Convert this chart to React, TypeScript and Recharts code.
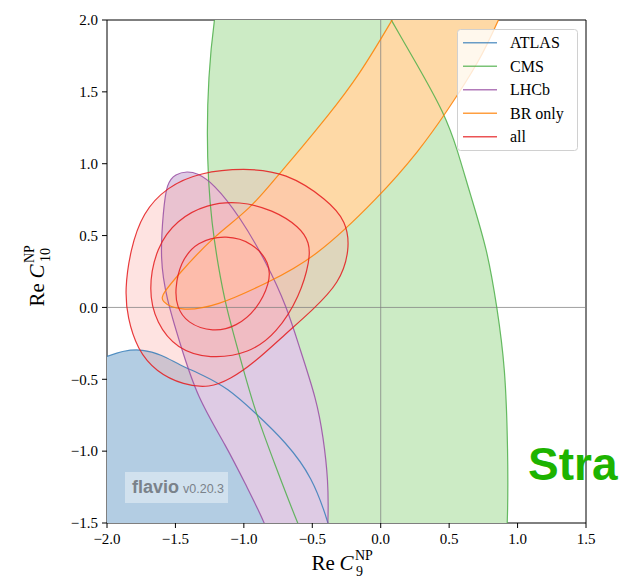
import React from 'react';
import { ScatterChart, Scatter, XAxis, YAxis, ReferenceLine, Legend, Label } from 'recharts';

type Pt = { x: number; y: number };

// Confidence-region outlines in the (Re C9, Re C10) plane.
// Points lying beyond the axis limits only close the shapes off-plot; they are clipped away.
const atlasContour: Pt[] = [
  { x: -2.3, y: -0.45 }, { x: -2.0, y: -0.34 }, { x: -1.88, y: -0.3 }, { x: -1.74, y: -0.29 },
  { x: -1.6, y: -0.33 }, { x: -1.47, y: -0.4 }, { x: -1.3, y: -0.47 }, { x: -1.12, y: -0.56 },
  { x: -0.92, y: -0.73 }, { x: -0.69, y: -0.94 }, { x: -0.5, y: -1.18 }, { x: -0.38, y: -1.5 },
  { x: -0.3, y: -1.8 }, { x: -0.6, y: -2.3 }, { x: -1.5, y: -2.4 }, { x: -2.3, y: -1.5 },
];

const cmsContour: Pt[] = [
  { x: -1.15, y: 2.4 }, { x: -1.22, y: 2.0 }, { x: -1.26, y: 1.6 }, { x: -1.27, y: 1.2 },
  { x: -1.26, y: 0.88 }, { x: -1.235, y: 0.59 }, { x: -1.19, y: 0.3 }, { x: -1.13, y: 0.0 },
  { x: -1.03, y: -0.34 }, { x: -0.92, y: -0.72 }, { x: -0.77, y: -1.1 }, { x: -0.61, y: -1.5 },
  { x: -0.45, y: -1.85 }, { x: -0.1, y: -2.3 }, { x: 0.5, y: -2.4 }, { x: 0.9, y: -1.9 },
  { x: 0.93, y: -1.5 }, { x: 0.93, y: -1.0 }, { x: 0.91, y: -0.41 }, { x: 0.85, y: 0.0 },
  { x: 0.78, y: 0.4 }, { x: 0.65, y: 0.8 }, { x: 0.56, y: 1.098 }, { x: 0.47, y: 1.344 },
  { x: 0.25, y: 1.716 }, { x: 0.09, y: 1.976 }, { x: -0.1, y: 2.3 }, { x: -0.6, y: 2.7 },
];

const lhcbContour: Pt[] = [
  { x: -1.413, y: 0.947 }, { x: -1.345, y: 0.936 }, { x: -1.224, y: 0.866 }, { x: -1.03, y: 0.634 },
  { x: -0.833, y: 0.309 }, { x: -0.687, y: 0.007 }, { x: -0.59, y: -0.29 }, { x: -0.468, y: -0.643 },
  { x: -0.42, y: -0.9 }, { x: -0.383, y: -1.2 }, { x: -0.383, y: -1.497 }, { x: -0.4, y: -1.75 },
  { x: -0.5, y: -1.97 }, { x: -0.63, y: -2.0 }, { x: -0.74, y: -1.78 }, { x: -0.846, y: -1.497 },
  { x: -0.98, y: -1.246 }, { x: -1.126, y: -0.968 }, { x: -1.345, y: -0.62 }, { x: -1.467, y: -0.248 },
  { x: -1.564, y: 0.054 }, { x: -1.613, y: 0.334 }, { x: -1.589, y: 0.67 }, { x: -1.564, y: 0.866 },
  { x: -1.5, y: 0.93 },
];

const brOnlyContour: Pt[] = [
  { x: -1.613, y: 0.042 }, { x: -1.467, y: -0.028 }, { x: -1.199, y: 0.007 }, { x: -0.833, y: 0.17 },
  { x: -0.493, y: 0.332 }, { x: -0.006, y: 0.773 }, { x: 0.286, y: 1.098 }, { x: 0.47, y: 1.344 },
  { x: 0.725, y: 1.716 }, { x: 0.858, y: 1.994 }, { x: 1.0, y: 2.3 }, { x: 0.7, y: 2.7 },
  { x: 0.25, y: 2.27 }, { x: 0.08, y: 1.994 }, { x: -0.152, y: 1.622 }, { x: -0.395, y: 1.321 },
  { x: -0.59, y: 1.098 }, { x: -0.724, y: 0.95 }, { x: -0.955, y: 0.68 }, { x: -1.224, y: 0.494 },
  { x: -1.491, y: 0.216 }, { x: -1.589, y: 0.1 },
];

// combined fit: 3 sigma, 2 sigma, 1 sigma
const allContour3: Pt[] = [
  { x: -1.87, y: 0.12 }, { x: -1.83, y: 0.4 }, { x: -1.74, y: 0.66 }, { x: -1.56, y: 0.84 },
  { x: -1.32, y: 0.94 }, { x: -1.0, y: 0.97 }, { x: -0.69, y: 0.94 }, { x: -0.39, y: 0.75 },
  { x: -0.25, y: 0.6 }, { x: -0.225, y: 0.4 }, { x: -0.3, y: 0.17 }, { x: -0.5, y: -0.02 },
  { x: -0.69, y: -0.18 }, { x: -0.93, y: -0.39 }, { x: -1.1, y: -0.5 }, { x: -1.25, y: -0.56 },
  { x: -1.44, y: -0.54 }, { x: -1.64, y: -0.45 }, { x: -1.78, y: -0.29 }, { x: -1.85, y: -0.07 },
];

const allContour2: Pt[] = [
  { x: -1.7, y: 0.12 }, { x: -1.64, y: 0.42 }, { x: -1.49, y: 0.61 }, { x: -1.27, y: 0.72 },
  { x: -1.03, y: 0.74 }, { x: -0.79, y: 0.68 }, { x: -0.59, y: 0.56 }, { x: -0.52, y: 0.45 },
  { x: -0.517, y: 0.33 }, { x: -0.59, y: 0.08 }, { x: -0.76, y: -0.18 }, { x: -0.96, y: -0.32 },
  { x: -1.25, y: -0.36 }, { x: -1.49, y: -0.29 }, { x: -1.64, y: -0.11 },
];

const allContour1: Pt[] = [
  { x: -1.503, y: 0.123 }, { x: -1.467, y: 0.309 }, { x: -1.345, y: 0.46 }, { x: -1.126, y: 0.506 },
  { x: -0.931, y: 0.449 }, { x: -0.809, y: 0.309 }, { x: -0.809, y: 0.17 }, { x: -0.906, y: -0.016 },
  { x: -1.053, y: -0.132 }, { x: -1.224, y: -0.174 }, { x: -1.418, y: -0.109 }, { x: -1.491, y: 0.007 },
];

const zeroLineX: Pt[] = [{ x: 0, y: -2 }, { x: 0, y: 2.5 }];
const zeroLineY: Pt[] = [{ x: -2.5, y: 0 }, { x: 2, y: 0 }];

const xTicks = [-2, -1.5, -1, -0.5, 0, 0.5, 1, 1.5];
const yTicks = [-1.5, -1, -0.5, 0, 0.5, 1, 1.5, 2];

const legendLabels = ['ATLAS', 'CMS', 'LHCb', 'BR only', 'all'];
const lineColors = ['#377eb8', '#4daf4a', '#984ea3', '#ff7f00', '#e41a1c'];
const fillColors = ['#b3cde3', '#ccebc5', '#decbe4', '#fed9a6', '#fbb4ae'];

const SERIF = "'Liberation Serif', 'Times New Roman', serif";
const SANS = "'Liberation Sans', Arial, sans-serif";

// closed uniform cubic B-spline over the pixel points (smooth contour outline)
function closedPath(pts: { x: number; y: number }[]): string {
  const n = pts.length;
  if (!n) return '';
  const at = (i: number) => pts[((i % n) + n) % n];
  const knot = (i: number) => {
    const a = at(i - 1);
    const b = at(i);
    const c = at(i + 1);
    return { x: (a.x + 4 * b.x + c.x) / 6, y: (a.y + 4 * b.y + c.y) / 6 };
  };
  const s0 = knot(0);
  let d = `M${s0.x},${s0.y}`;
  for (let i = 0; i < n; i++) {
    const p1 = at(i);
    const p2 = at(i + 1);
    const e = knot(i + 1);
    const c1x = (2 * p1.x + p2.x) / 3;
    const c1y = (2 * p1.y + p2.y) / 3;
    const c2x = (p1.x + 2 * p2.x) / 3;
    const c2y = (p1.y + 2 * p2.y) / 3;
    d += `C${c1x},${c1y} ${c2x},${c2y} ${e.x},${e.y}`;
  }
  return d + 'Z';
}

function openPath(pts: { x: number; y: number }[]): string {
  return pts.map((p, i) => `${i ? 'L' : 'M'}${p.x},${p.y}`).join('');
}

const noMarker = () => <g />;

function regionFill(key: string, pts: Pt[], color: string, opacity = 1) {
  return (
    <Scatter
      key={key}
      data={pts}
      isAnimationActive={false}
      shape={noMarker}
      legendType="none"
      lineType="joint"
      line={(p: any) => <path d={closedPath(p.points)} fill={color} fillOpacity={opacity} stroke="none" />}
    />
  );
}

function regionEdge(key: string, pts: Pt[], color: string) {
  return (
    <Scatter
      key={key}
      data={pts}
      isAnimationActive={false}
      shape={noMarker}
      legendType="none"
      lineType="joint"
      line={(p: any) => (
        <path d={closedPath(p.points)} fill="none" stroke={color} strokeWidth={1.2} strokeOpacity={0.85} />
      )}
    />
  );
}

function zeroLine(key: string, pts: Pt[]) {
  return (
    <Scatter
      key={key}
      data={pts}
      isAnimationActive={false}
      shape={noMarker}
      legendType="none"
      lineType="joint"
      line={(p: any) => <path d={openPath(p.points)} fill="none" stroke="#808080" strokeOpacity={0.75} strokeWidth={1} />}
    />
  );
}

const fmt = (v: number) => (v < 0 ? '\u2212' : '') + Math.abs(v).toFixed(1);

function AxisTitle({ cx, cy, rotate, sub }: { cx: number; cy: number; rotate: number; sub: string }) {
  return (
    <g transform={`translate(${cx},${cy}) rotate(${rotate})`} fontFamily={SERIF} fill="#000">
      <text x={-35} y={0} fontSize={21}>Re</text>
      <text x={-7} y={0} fontSize={21} fontStyle="italic">C</text>
      <text x={8.5} y={-10} fontSize={14}>NP</text>
      <text x={9.5} y={6} fontSize={14}>{sub}</text>
    </g>
  );
}

const XTitle = (props: any) => {
  const vb = props.viewBox || { x: 107, width: 479, y: 523 };
  return <AxisTitle cx={vb.x + vb.width / 2} cy={570} rotate={0} sub="9" />;
};

const YTitle = (props: any) => {
  const vb = props.viewBox || { y: 20, height: 503 };
  return <AxisTitle cx={44} cy={vb.y + vb.height / 2} rotate={-90} sub="10" />;
};

const LegendBox = () => (
  <svg width={122} height={123} style={{ display: 'block' }}>
    <rect x={0.5} y={0.5} width={120} height={121} rx={3} fill="#ffffff" fillOpacity={0.8} stroke="#d0d0d0" />
    {legendLabels.map((name, i) => {
      const cy = 13.7 + i * 23.5;
      return (
        <g key={name}>
          <line x1={6} x2={40} y1={cy} y2={cy} stroke={lineColors[i]} strokeOpacity={0.75} strokeWidth={1.5} />
          <text x={53} y={cy + 5.3} fontFamily={SERIF} fontSize={16} fill="#000">
            {name}
          </text>
        </g>
      );
    })}
  </svg>
);

export default function App() {
  return (
    <div style={{ position: 'absolute', left: 0, top: 0, width: 619, height: 578, background: '#fff' }}>
      <ScatterChart width={619} height={578} margin={{ top: 20, right: 33, bottom: 0, left: 0 }}>
        <XAxis
          type="number"
          dataKey="x"
          domain={[-2, 1.5]}
          ticks={xTicks}
          allowDataOverflow
          height={55}
          tickFormatter={fmt}
          tickSize={5}
          tickMargin={5}
          stroke="#000"
          tick={{ fontFamily: SERIF, fontSize: 15, fill: '#000' }}
        >
          <Label content={XTitle} />
        </XAxis>
        <YAxis
          type="number"
          dataKey="y"
          domain={[-1.5, 2]}
          ticks={yTicks}
          allowDataOverflow
          width={107}
          tickFormatter={fmt}
          tickSize={5}
          tickMargin={4}
          stroke="#000"
          tick={{ fontFamily: SERIF, fontSize: 15, fill: '#000' }}
        >
          <Label content={YTitle} />
        </YAxis>

        {regionFill('atlas-fill', atlasContour, fillColors[0])}
        {regionFill('cms-fill', cmsContour, fillColors[1])}
        {regionFill('lhcb-fill', lhcbContour, fillColors[2])}
        {regionFill('br-fill', brOnlyContour, fillColors[3])}
        {regionFill('all3-fill', allContour3, fillColors[4], 0.37)}
        {regionFill('all2-fill', allContour2, fillColors[4], 0.37)}
        {regionFill('all1-fill', allContour1, fillColors[4], 0.37)}

        {zeroLine('zero-v', zeroLineX)}
        {zeroLine('zero-h', zeroLineY)}

        {regionEdge('atlas-edge', atlasContour, lineColors[0])}
        {regionEdge('cms-edge', cmsContour, lineColors[1])}
        {regionEdge('lhcb-edge', lhcbContour, lineColors[2])}
        {regionEdge('br-edge', brOnlyContour, lineColors[3])}
        {regionEdge('all3-edge', allContour3, lineColors[4])}
        {regionEdge('all2-edge', allContour2, lineColors[4])}
        {regionEdge('all1-edge', allContour1, lineColors[4])}

        <ReferenceLine x={1.5} stroke="#000" strokeWidth={1} />
        <ReferenceLine y={2} stroke="#000" strokeWidth={1} />

        <Legend
          layout="vertical"
          align="center"
          verticalAlign="middle"
          content={LegendBox}
          wrapperStyle={{ left: 457, top: 29, width: 122, height: 123 }}
        />
      </ScatterChart>

      <svg
        width={619}
        height={578}
        style={{ position: 'absolute', left: 0, top: 0, pointerEvents: 'none' }}
      >
        <rect x={125} y={472} width={103} height={31} fill="#ffffff" fillOpacity={0.4} />
        <text x={132} y={493} fontFamily={SANS} fontWeight="bold" fontSize={18} fill="#7a828a">
          flavio
        </text>
        <text x={183} y={493} fontFamily={SANS} fontSize={12.5} fill="#7a828a">
          v0.20.3
        </text>
        <text x={528} y={480} fontFamily={SANS} fontWeight="bold" fontSize={46} fill="#1db300">
          Stra
        </text>
      </svg>
    </div>
  );
}
